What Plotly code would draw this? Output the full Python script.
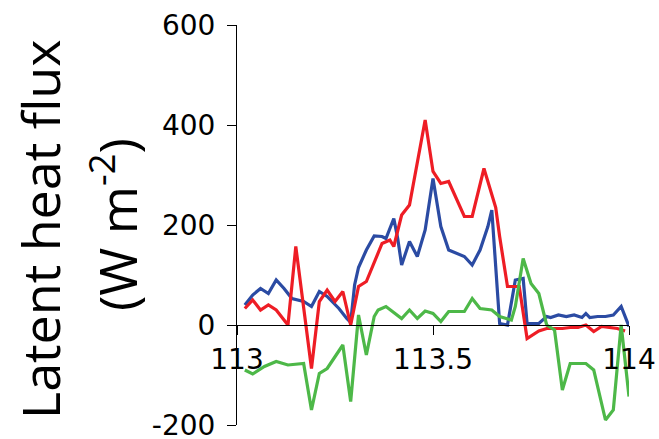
import plotly.graph_objects as go

# Longitude (degrees E) and latent heat flux (W m-2) for three runs
lon_blue = [113.02, 113.04, 113.06, 113.08, 113.10, 113.12, 113.14, 113.17, 113.19, 113.21,
            113.23, 113.26, 113.28, 113.29, 113.30, 113.31, 113.33, 113.35, 113.37, 113.38,
            113.40, 113.41, 113.42, 113.44, 113.46, 113.48, 113.50, 113.52, 113.54, 113.56,
            113.58, 113.60, 113.62, 113.64, 113.65, 113.67, 113.69, 113.71, 113.73, 113.74,
            113.77, 113.79, 113.80, 113.82, 113.84, 113.86, 113.88, 113.89, 113.90, 113.92,
            113.94, 113.96, 113.98, 114.00]
flux_blue = [40, 60, 73, 63, 90, 73, 53, 47, 37, 67,
             57, 33, 13, 5, 80, 115, 150, 178, 177, 173,
             213, 173, 120, 167, 137, 190, 293, 197, 150, 143,
             137, 120, 150, 197, 230, 3, 0, 90, 93, 3,
             3, 17, 15, 20, 17, 20, 15, 23, 15, 17,
             17, 20, 37, -3]

lon_red = [113.02, 113.04, 113.06, 113.08, 113.10, 113.13, 113.15, 113.16, 113.19, 113.21,
           113.23, 113.25, 113.27, 113.29, 113.31, 113.33, 113.35, 113.37, 113.39, 113.40,
           113.42, 113.44, 113.48, 113.50, 113.52, 113.54, 113.58, 113.60, 113.63, 113.66,
           113.67, 113.69, 113.72, 113.74, 113.77, 113.79, 113.81, 113.83, 113.85, 113.87,
           113.89, 113.91, 113.93, 113.95, 113.97, 113.99]
flux_red = [33, 50, 30, 40, 30, 0, 157, 97, -87, 47,
            70, 47, 67, 0, 77, 87, 123, 163, 170, 157,
            220, 240, 410, 307, 283, 287, 217, 217, 313, 235,
            177, 77, 77, -27, -12, -7, -7, -7, -5, -5,
            0, -13, -3, -5, -7, -12]

lon_green = [113.02, 113.04, 113.07, 113.10, 113.13, 113.17, 113.19, 113.21, 113.23, 113.27,
             113.29, 113.31, 113.33, 113.35, 113.36, 113.38, 113.42, 113.44, 113.46, 113.48,
             113.50, 113.52, 113.54, 113.58, 113.60, 113.62, 113.65, 113.67, 113.70, 113.71,
             113.73, 113.75, 113.77, 113.79, 113.81, 113.83, 113.85, 113.89, 113.91, 113.94,
             113.96, 113.98, 114.00]
flux_green = [-90, -98, -83, -73, -80, -77, -170, -97, -87, -40,
              -153, 20, -60, 17, 30, 37, 13, 30, 13, 28,
              23, 7, 27, 27, 53, 33, 30, 17, 10, 37,
              133, 83, 63, 0, -10, -130, -77, -77, -90, -190,
              -170, 0, -143]

x_ticks = [113, 113.5, 114]
x_tick_text = ["113", "113.5", "114"]
y_ticks = [-200, 0, 200, 400, 600]
y_tick_text = ["-200", "0", "200", "400", "600"]

fig = go.Figure()
for lon, flux, color in [(lon_blue, flux_blue, "#2B4BA3"),
                         (lon_red, flux_red, "#EE1D25"),
                         (lon_green, flux_green, "#4DB848")]:
    fig.add_trace(go.Scatter(x=lon, y=flux, mode="lines",
                             line=dict(color=color, width=3.2),
                             showlegend=False, hoverinfo="skip"))

tick_font = dict(family="DejaVu Sans", size=28, color="black")
title_font = dict(family="Open Sans", size=52, color="black")

fig.update_layout(
    width=659, height=439,
    margin=dict(l=237, r=30, t=25, b=14),
    paper_bgcolor="white", plot_bgcolor="white",
    xaxis=dict(range=[113, 114], tickvals=x_ticks, ticktext=x_tick_text,
               anchor="free", position=0.25, automargin=False,
               showline=True, linecolor="black", linewidth=1,
               ticks="outside", ticklen=9, tickcolor="black", tickwidth=1,
               showgrid=False, zeroline=False, tickfont=tick_font,
               ticklabeloverflow="allow"),
    yaxis=dict(range=[-200, 600], tickvals=y_ticks, ticktext=y_tick_text,
               automargin=False,
               showline=True, linecolor="black", linewidth=1,
               ticks="outside", ticklen=9, tickcolor="black", tickwidth=1,
               showgrid=False, zeroline=False, tickfont=tick_font,
               ticklabelstandoff=6, ticklabeloverflow="allow"),
)

fig.add_annotation(text="Latent heat flux", textangle=-90, showarrow=False,
                   xref="paper", yref="paper", x=(40 - 237) / 392, y=(425 - 230) / 400,
                   xanchor="center", yanchor="middle", font=title_font)
fig.add_annotation(text="(W m<sup>-2</sup>)", textangle=-90, showarrow=False,
                   xref="paper", yref="paper", x=(114 - 237) / 392, y=(425 - 225) / 400,
                   xanchor="center", yanchor="middle", font=title_font)

fig.write_html("out.html")
